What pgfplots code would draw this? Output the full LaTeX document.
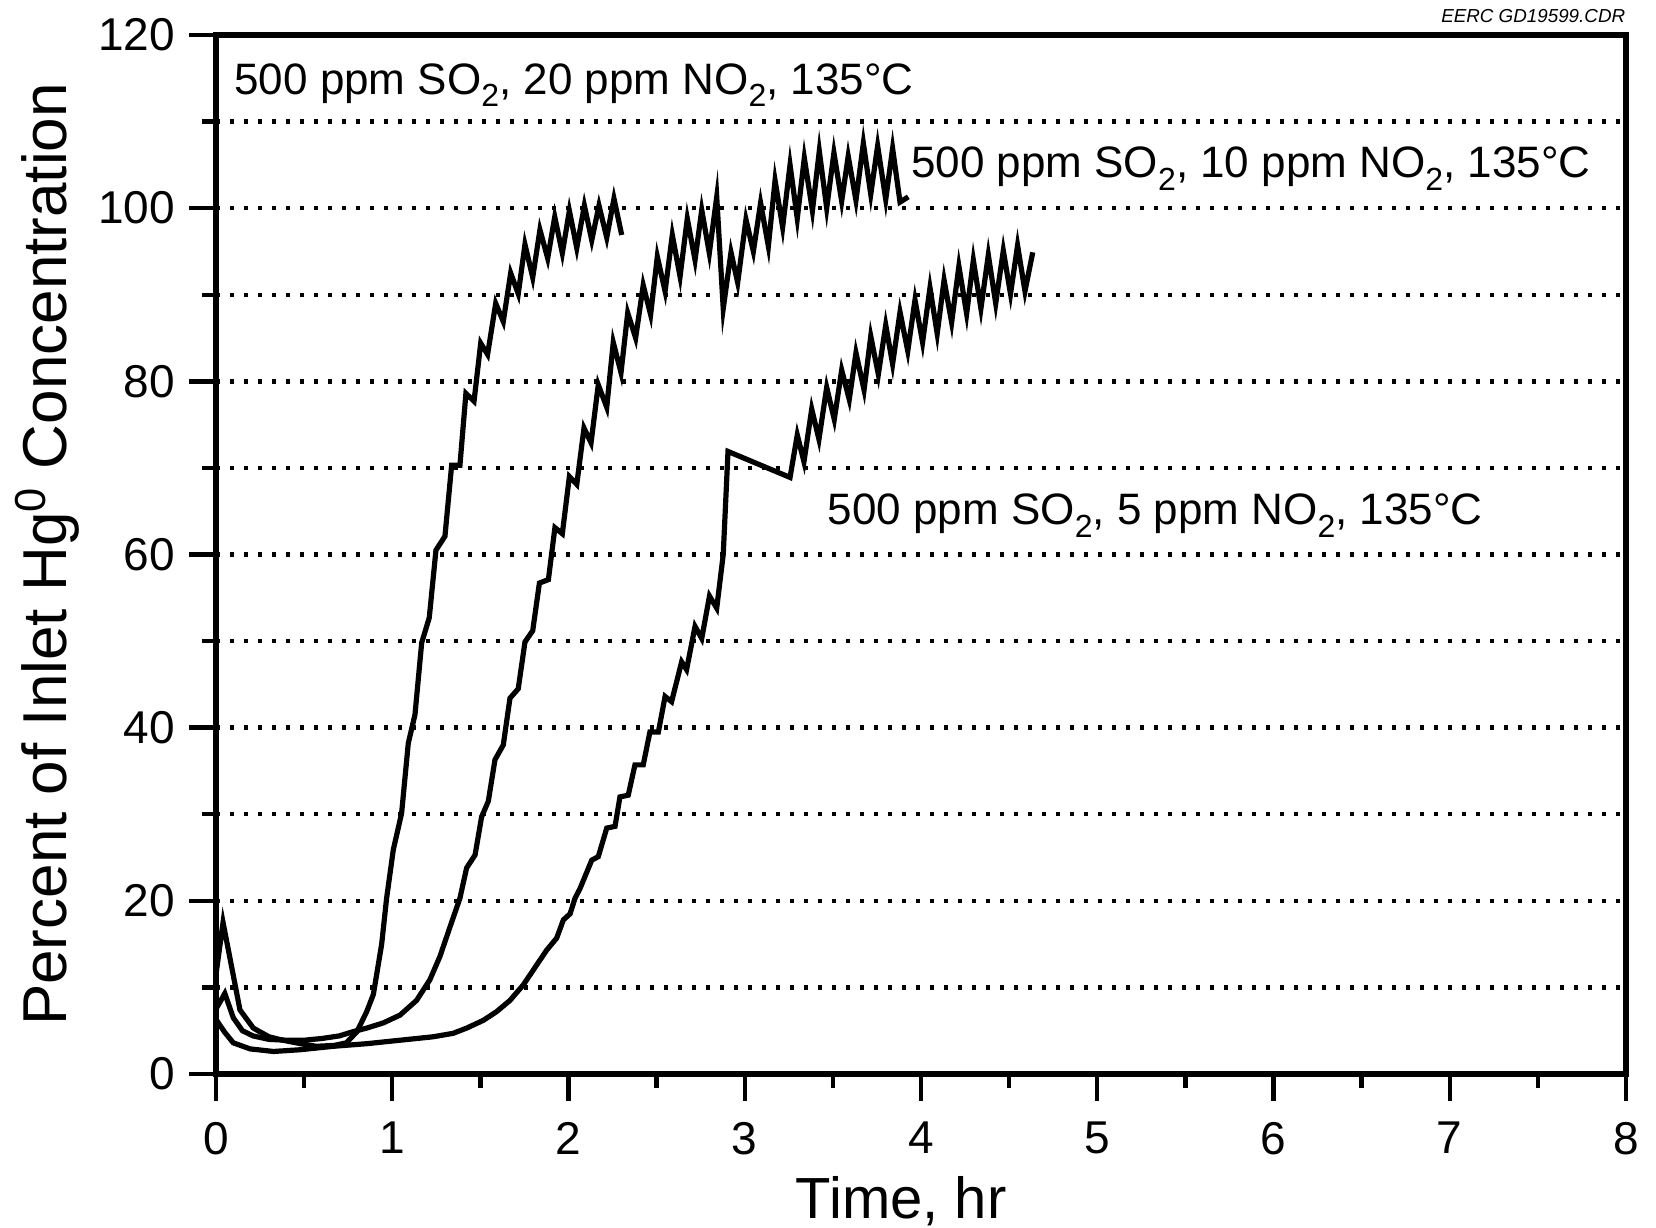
\documentclass[border=0pt]{standalone}
\usepackage{fontspec}
\setmainfont{Liberation Sans}
\usepackage{graphicx}
\usepackage{pgfplots}
\pgfplotsset{compat=1.18}
\newcommand{\sub}[1]{\raisebox{-0.55ex}{\fontsize{8}{9}\selectfont #1}}
\begin{document}
\begin{tikzpicture}
\begin{axis}[
  name=ax,
  at={(54pt,38.5pt)}, anchor=south west,
  scale only axis, width=352.5pt, height=259.75pt,
  xmin=0, xmax=8, ymin=0, ymax=120,
  xtick={0,1,...,8}, minor x tick num=1,
  ytick={0,20,...,120}, minor y tick num=1,
  xtick pos=left, ytick pos=left,
  tick align=outside,
  major tick length=6.75pt, minor tick length=3.4pt,
  tick style={line width=1.1pt, black},
  axis line style={line width=1.4pt},
  ymajorgrids, yminorgrids,
  major grid style={black, line width=1.1pt, dash pattern=on 1.1pt off 2.4pt},
  minor grid style={black, line width=1.1pt, dash pattern=on 1.1pt off 2.4pt},
  /pgf/number format/assume math mode=true,
  ticklabel style={font=\fontsize{11.5}{13}\selectfont},
  xticklabel style={yshift=-1.8pt},
  xlabel={Time, hr},
  ylabel={Percent of Inlet Hg\textsuperscript{0} Concentration},
  xlabel style={font=\fontsize{14.5}{16}\selectfont, at={(axis description cs:0.486,-0.122)}, anchor=center},
  ylabel style={font=\fontsize{15.5}{17}\selectfont, at={(axis description cs:-0.1195,0.5)}, anchor=center},
  curve/.style={black, line width=1.3pt, no markers, line join=miter, miter limit=30},
]
\addplot[curve] coordinates {(0,11.5) (0.04,17.5) (0.136,7.4) (0.212,5.3) (0.30,4.3) (0.38,3.9) (0.48,3.5) (0.57,3.2) (0.67,3.3) (0.74,3.6) (0.80,4.9) (0.855,7.2) (0.893,9.2) (0.94,15.0) (0.968,20.3) (1.006,25.9) (1.053,30.1) (1.091,38.2) (1.129,41.5) (1.167,49.8) (1.21,52.7) (1.248,60.5) (1.299,62.1) (1.337,70.3) (1.384,70.3) (1.418,78.6) (1.464,77.7) (1.502,84.4) (1.541,83.1) (1.587,89.0) (1.630,86.9) (1.672,92.5) (1.715,90.1) (1.753,95.8) (1.797,92.0) (1.838,97.5) (1.882,94.2) (1.922,99.0) (1.965,94.8) (2.005,99.7) (2.047,95.4) (2.090,100.3) (2.132,96.3) (2.173,100.3) (2.217,96.6) (2.258,101.1) (2.302,96.9)};
\addplot[curve] coordinates {(0,7.5) (0.05,9.3) (0.098,6.5) (0.15,5.0) (0.21,4.4) (0.3,4.0) (0.4,3.9) (0.5,3.9) (0.6,4.1) (0.7,4.4) (0.779,4.9) (0.855,5.3) (0.949,5.9) (1.044,6.8) (1.138,8.5) (1.214,10.9) (1.271,13.6) (1.328,17.0) (1.384,20.3) (1.422,23.8) (1.470,25.3) (1.507,29.7) (1.545,31.5) (1.583,36.3) (1.630,38.0) (1.668,43.4) (1.715,44.5) (1.753,49.9) (1.797,51.2) (1.835,56.7) (1.886,57.1) (1.923,63.1) (1.965,62.4) (2.005,69.0) (2.047,68.1) (2.088,74.6) (2.128,72.9) (2.169,79.6) (2.217,77.0) (2.254,84.5) (2.298,81.0) (2.336,87.9) (2.381,85.0) (2.424,91.1) (2.466,87.7) (2.504,94.4) (2.548,90.4) (2.589,96.9) (2.633,92.1) (2.674,98.8) (2.718,94.0) (2.756,99.8) (2.799,94.8) (2.841,101.3) (2.878,88.4) (2.922,94.9) (2.960,91.4) (3.007,98.7) (3.049,95.0) (3.090,100.6) (3.134,95.6) (3.172,103.2) (3.215,97.8) (3.257,105.0) (3.298,98.8) (3.338,105.8) (3.384,99.7) (3.423,106.6) (3.465,100.0) (3.506,106.4) (3.550,100.8) (3.587,106.0) (3.631,100.9) (3.673,107.5) (3.715,101.6) (3.754,107.2) (3.800,101.0) (3.839,106.9) (3.881,100.7) (3.928,101.3)};
\addplot[curve] coordinates {(0,6.3) (0.05,4.8) (0.098,3.6) (0.193,2.9) (0.326,2.6) (0.476,2.8) (0.666,3.2) (0.855,3.5) (1.044,3.9) (1.233,4.3) (1.346,4.7) (1.422,5.3) (1.517,6.2) (1.592,7.2) (1.668,8.5) (1.744,10.3) (1.800,12.0) (1.876,14.3) (1.933,15.7) (1.971,17.8) (2.009,18.5) (2.037,20.3) (2.065,21.4) (2.132,24.7) (2.169,25.1) (2.217,28.4) (2.264,28.6) (2.292,32.0) (2.339,32.2) (2.377,35.7) (2.424,35.7) (2.462,39.5) (2.510,39.5) (2.548,43.6) (2.585,43.0) (2.642,47.6) (2.670,46.7) (2.718,51.7) (2.756,50.3) (2.800,55.2) (2.841,53.8) (2.878,60.0) (2.905,71.9) (3.257,68.9) (3.298,73.8) (3.336,70.7) (3.380,76.8) (3.421,73.3) (3.465,79.3) (3.508,75.6) (3.550,81.3) (3.593,77.9) (3.631,83.3) (3.677,79.0) (3.715,85.2) (3.758,80.8) (3.800,86.5) (3.839,82.0) (3.881,88.0) (3.925,83.5) (3.966,89.4) (4.009,84.5) (4.051,90.8) (4.092,85.5) (4.131,91.7) (4.174,86.8) (4.215,93.3) (4.259,87.8) (4.297,94.0) (4.340,88.4) (4.382,94.6) (4.424,89.0) (4.467,95.1) (4.508,90.1) (4.548,95.7) (4.590,90.4) (4.634,94.9)};
\node[anchor=west, inner sep=0pt, font=\fontsize{11}{13}\selectfont] at (axis cs:0.10,114.2) {500 ppm SO\sub{2}, 20 ppm NO\sub{2}, 135°C};
\node[anchor=west, inner sep=0pt, font=\fontsize{11}{13}\selectfont] at (axis cs:3.94,104.6) {500 ppm SO\sub{2}, 10 ppm NO\sub{2}, 135°C};
\node[anchor=west, inner sep=0pt, font=\fontsize{11}{13}\selectfont] at (axis cs:3.467,64.5) {500 ppm SO\sub{2}, 5 ppm NO\sub{2}, 135°C};
\end{axis}
\node[anchor=base east, inner sep=0pt, font=\fontsize{4.7}{5.5}\selectfont\itshape] at ([yshift=3pt]ax.north east) {EERC GD19599.CDR};
\pgfresetboundingbox
\path[use as bounding box] (0,0) rectangle (414pt,307pt);
\end{tikzpicture}
\end{document}
